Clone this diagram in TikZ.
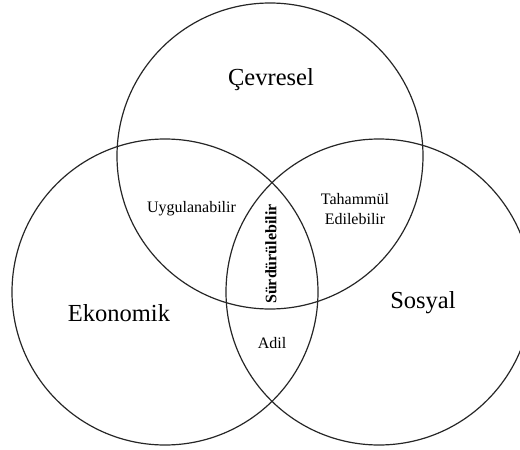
\documentclass[tikz,border=0pt]{standalone}
\usepackage{fontspec}
\setmainfont{Liberation Serif}
\begin{document}
\begin{tikzpicture}[x=1pt,y=-1pt,
  ring/.style={circle,draw=black!85,line width=1.2pt,minimum size=306pt,inner sep=0pt},
  big/.style={font=\fontsize{24.5}{28}\selectfont},
  small/.style={font=\fontsize{16}{19}\selectfont,align=center}]
  \useasboundingbox (0,0) rectangle (520,450);
  \begin{scope}
    \clip (0,0) rectangle (520,450);
    % the three spheres of sustainability
    \node[ring] (env) at (270,156) {};
    \node[ring] (eco) at (165,292) {};
    \node[ring] (soc) at (379,292) {};
  \end{scope}
  % sphere names
  \node[big] (tenv) at (271,80) {Çevresel};
  \node[big] (teco) at (119,313) {Ekonomik};
  \node[big] (tsoc) at (423,303) {Sosyal};
  % pairwise overlaps
  \node[small] (ue) at (191.5,209) {Uygulanabilir};
  \node[small,font=\fontsize{16}{20}\selectfont] (te) at (355,209) {Tahammül\\Edilebilir};
  \node[small] (ad) at (272,343) {Adil};
  % common core
  \node[small,font=\bfseries\fontsize{16}{19}\selectfont,rotate=90] (su) at (271,254) {Sürdürülebilir};
\end{tikzpicture}
\end{document}
